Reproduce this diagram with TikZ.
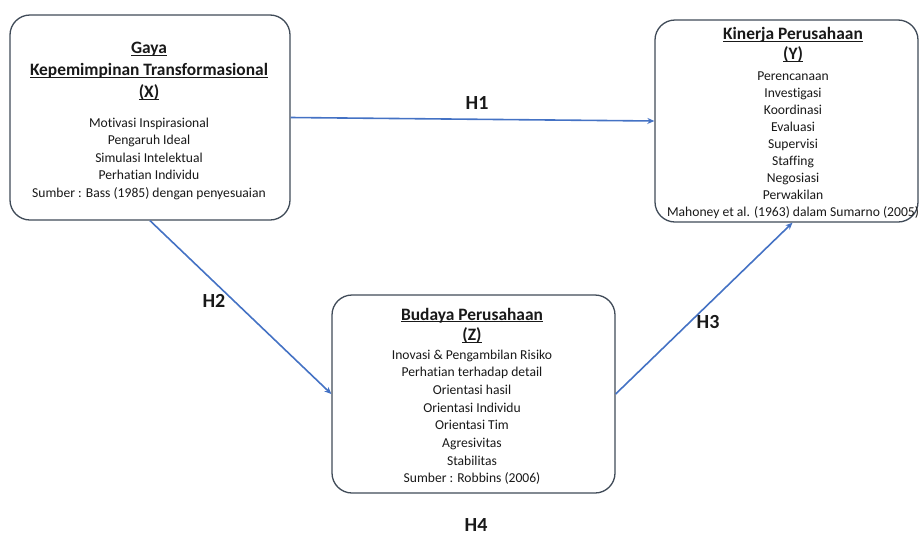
\documentclass[tikz,border=0pt]{standalone}
\usepackage{fontspec}
\setmainfont{Carlito}[Ligatures=NoCommon]
\usetikzlibrary{arrows.meta}
\definecolor{boxline}{RGB}{64,75,88}
\definecolor{arrowblue}{RGB}{68,114,196}
\definecolor{txt}{RGB}{25,25,25}
\newcommand\ulx[1]{\setbox0\hbox{#1}\rlap{\rule[-2.4pt]{\wd0}{1.1pt}}\box0}
\tikzset{
 box/.style={draw=boxline, line width=1.3pt, rounded corners=20pt, fill=white, inner sep=0},
 ttl/.style={font=\bfseries\fontsize{17.4}{21}\selectfont, text=txt, anchor=base, inner sep=0},
 bodytxt/.style={font=\fontsize{13.6}{17}\selectfont, text=txt, anchor=base, inner sep=0},
 hlab/.style={font=\bfseries\fontsize{20}{24}\selectfont, text=txt, inner sep=0},
 conn/.style={draw=arrowblue, line width=1.6pt, -{Stealth[length=7pt,width=6pt]}},
}
\begin{document}
\begin{tikzpicture}[x=1pt,y=-1pt]
\useasboundingbox (0,0) rectangle (920,536);
% boxes
\node[box, minimum width=280pt, minimum height=205pt] (X) at (150,117.5) {};
\node[box, minimum width=263pt, minimum height=202pt] (Y) at (786.5,121) {};
\node[box, minimum width=283pt, minimum height=198pt] (Z) at (473.5,394) {};
% titles
\node[ttl] (xt1) at (149,53.5) {\ulx{Gaya}};
\node[ttl] (xt2) at (149,75.5) {\ulx{Kepemimpinan Transformasional}};
\node[ttl] (xt3) at (149,97.5) {\ulx{(X)}};
\node[ttl] (yt1) at (793,39.5) {\ulx{Kinerja Perusahaan}};
\node[ttl] (yt2) at (793,59.5) {\ulx{(Y)}};
\node[ttl] (zt1) at (472,320) {\ulx{Budaya Perusahaan}};
\node[ttl] (zt2) at (472,340.5) {\ulx{(Z)}};
% body lines
\foreach \t [count=\i] in {Motivasi Inspirasional, Pengaruh Ideal, Simulasi Intelektual, Perhatian Individu, Sumber : Bass (1985) dengan penyesuaian}
  \node[bodytxt] (xb\i) at (149,{127+17.5*(\i-1)}) {\t};
\foreach \t [count=\i] in {Perencanaan, Investigasi, Koordinasi, Evaluasi, Supervisi, Staffing, Negosiasi, Perwakilan, Mahoney et al. (1963) dalam Sumarno (2005)}
  \node[bodytxt] (yb\i) at (793,{80.3+17*(\i-1)}) {\t};
\foreach \t [count=\i] in {Inovasi \& Pengambilan Risiko, Perhatian terhadap detail, Orientasi hasil, Orientasi Individu, Orientasi Tim, Agresivitas, Stabilitas, Sumber : Robbins (2006)}
  \node[bodytxt] (zb\i) at (472,{359+17.7*(\i-1)}) {\t};
% connectors
\draw[conn] (X.east) -- (Y.west);
\draw[conn] (X.south) -- (Z.west);
\draw[conn] (Z.east) -- ([xshift=6pt]Y.south);
% labels
\node[hlab] (h1) at (477,103) {H1};
\node[hlab] (h2) at (214,301) {H2};
\node[hlab] (h3) at (708,322) {H3};
\node[hlab] (h4) at (476,525) {H4};
\end{tikzpicture}
\end{document}
